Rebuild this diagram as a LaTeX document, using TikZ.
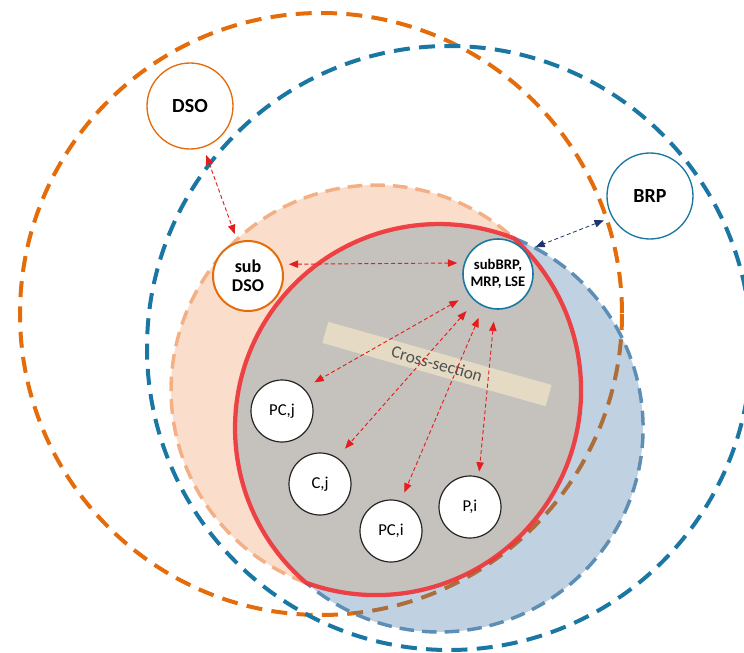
\documentclass[tikz,border=0pt]{standalone}
\usepackage{fontspec}
\setmainfont{Carlito}
\usetikzlibrary{arrows.meta}

\definecolor{orng}{RGB}{228,108,10}
\definecolor{blu}{RGB}{26,118,162}
\definecolor{salmonfill}{RGB}{251,221,204}
\definecolor{salmonline}{RGB}{243,176,132}
\definecolor{bluebase}{RGB}{60,115,165}
\definecolor{blueline}{RGB}{92,142,182}
\definecolor{grayfill}{RGB}{197,194,190}
\definecolor{redline}{RGB}{240,50,55}
\definecolor{arrred}{RGB}{228,30,30}
\definecolor{navy}{RGB}{30,50,110}
\definecolor{bandfill}{RGB}{232,222,198}
\definecolor{bandtext}{RGB}{80,80,80}

\tikzset{
  bigdash/.style={line width=3pt, dash pattern=on 12pt off 7pt},
  areadash/.style={line width=2.6pt, dash pattern=on 11pt off 6pt},
  actor/.style={circle, fill=white, minimum size=64.5pt, inner sep=0pt,
    line width=1pt, font=\fontsize{15}{17}\selectfont\bfseries},
  subactor/.style={circle, fill=white, minimum size=52.5pt, inner sep=0pt,
    align=center},
  member/.style={circle, fill=white, draw=black!85, minimum size=46.5pt,
    inner sep=0pt, line width=0.9pt, font=\fontsize{12.5}{14}\selectfont},
  link/.style={draw=arrred, line width=0.7pt, dash pattern=on 3pt off 2pt,
    {Triangle[length=7pt,width=5.5pt]}-{Triangle[length=7pt,width=5.5pt]}},
  navylink/.style={draw=navy, line width=0.6pt, dash pattern=on 3pt off 2pt,
    {Triangle[length=7pt,width=5.5pt]}-{Triangle[length=7pt,width=5.5pt]}},
}

\begin{document}
\begin{tikzpicture}[x=0.75pt, y=-0.75pt]
\useasboundingbox (0,0) rectangle (744,653);

% outer dashed scopes
\draw[bigdash, orng] (321,314) circle (301);
\draw[bigdash, blu] (449,348) circle (302);

% sub-areas
\fill[salmonfill] (376,390) circle (205);
\fill[bluebase, fill opacity=0.32] (439,428) circle (204);
\draw[areadash, salmonline] (306,582.7) arc[start angle=110, end angle=312.2, radius=205];
\draw[areadash, blueline] (513.8,238.2) arc[start angle=-68.5, end angle=130.7, radius=204];

% overlap of both sub-areas
\path[fill=grayfill] (306,582.7)
  arc[start angle=130.7, end angle=291.5, radius=204]
  arc[start angle=-47.8, end angle=110, radius=205] -- cycle;
\draw[redline, line width=3.2pt, line join=round, opacity=0.9] (306,582.7)
  arc[start angle=130.7, end angle=291.5, radius=204]
  arc[start angle=-47.8, end angle=110, radius=205] -- cycle;

% cross-section band
\node[fill=bandfill, fill opacity=0.92, text opacity=1, text=bandtext,
  minimum width=174pt, minimum height=16.5pt, inner sep=0pt, rotate=-15.8,
  font=\fontsize{13}{14}\selectfont] (band) at (437,364) {Cross-section};

% actors
\node[actor, draw=orng] (dso) at (190,106) {DSO};
\node[actor, draw=blu] (brp) at (650,196) {BRP};
\node[subactor, draw=orng, line width=1.5pt,
  font=\fontsize{13.5}{14}\selectfont\bfseries] (sdso) at (248,276) {sub\\DSO};
\node[subactor, draw=blu, line width=1.2pt,
  font=\fontsize{11}{13}\selectfont\bfseries] (sbrp) at (498,274) {subBRP,\\MRP, LSE};

\node[member] (pcj) at (282,411) {PC,j};
\node[member] (cj)  at (320,484) {C,j};
\node[member] (pci) at (391,531) {PC,i};
\node[member] (pi)  at (470,507) {P,i};

% interactions
\draw[link, shorten <=6pt, shorten >=6pt] (dso.288) -- (sdso.107.6);
\draw[link, shorten <=5pt, shorten >=5pt] (sdso.19) -- (sbrp.162);
\draw[navylink, shorten <=6.4pt, shorten >=8pt] (brp.209) -- (sbrp.40.6);
\draw[link, shorten <=8.7pt, shorten >=9pt] (sbrp.215) -- (pcj.46);
\draw[link, shorten <=9.7pt, shorten >=8.8pt] (sbrp.230) -- (cj.57);
\draw[link, shorten <=9pt, shorten >=6.8pt] (sbrp.246) -- (pci.72.5);
\draw[link, shorten <=9pt, shorten >=3.8pt] (sbrp.265) -- (pi.74);
\end{tikzpicture}
\end{document}
